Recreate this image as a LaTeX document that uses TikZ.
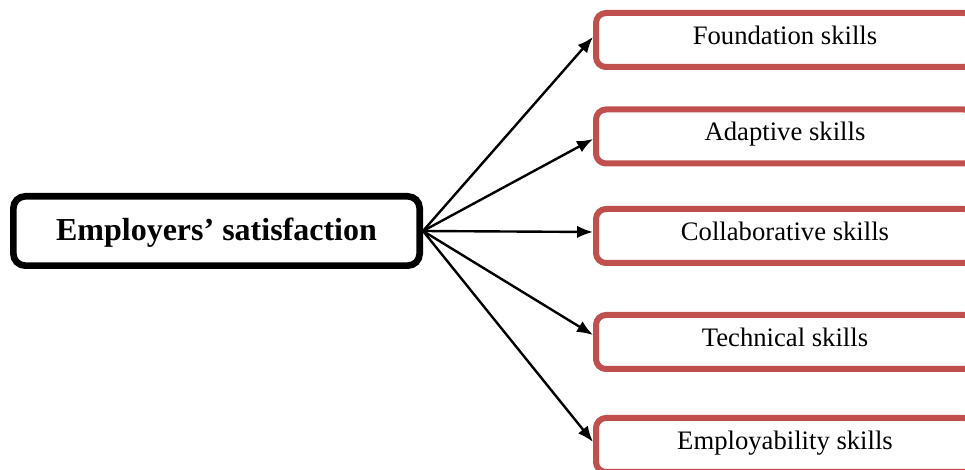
\documentclass[tikz,border=0pt]{standalone}
\usepackage{fontspec}
\setmainfont{Liberation Serif}
\usetikzlibrary{arrows.meta, positioning}
\definecolor{skillred}{HTML}{C0504D}

\begin{document}
\begin{tikzpicture}[x=0.75pt, y=-0.75pt,
  mainbox/.style={draw, line width=5pt, rounded corners=9pt, minimum width=304.75pt, minimum height=52pt, text height=20pt, text depth=5pt, font=\fontsize{24}{28}\selectfont\bfseries},
  skillbox/.style={draw=skillred, line width=4.5pt, rounded corners=7.5pt, minimum width=283.5pt, minimum height=40.5pt, text height=14pt, text depth=7.5pt, font=\fontsize{20}{24}\selectfont},
  arr/.style={-{Latex[length=4.2mm, width=3.3mm]}, line width=1.8pt}
]
\clip (0,0) rectangle (965,470);
\node[mainbox] (emp) at (216.5,231) {Employers' satisfaction};
\node[skillbox] (found) at (785,40) {Foundation skills};
\node[skillbox] (adapt) at (785,136.5) {Adaptive skills};
\node[skillbox] (collab) at (785,236) {Collaborative skills};
\node[skillbox] (tech) at (785,342) {Technical skills};
\node[skillbox] (emplo) at (785,445) {Employability skills};
\draw[arr] (emp.east) -- ([yshift=2.25pt]found.west);
\draw[arr] (emp.east) -- ([yshift=-1.9pt]adapt.west);
\draw[arr] (emp.east) -- ([yshift=3pt]collab.west);
\draw[arr] (emp.east) -- ([yshift=5.25pt]tech.west);
\draw[arr] (emp.east) -- ([yshift=2.25pt]emplo.west);
\end{tikzpicture}
\end{document}
